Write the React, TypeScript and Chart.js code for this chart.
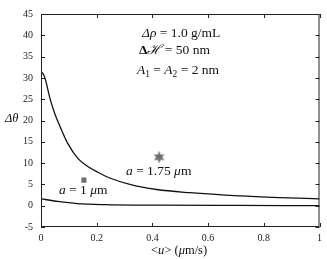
import React, { useEffect, useRef } from "react";
import { Chart, registerables } from "chart.js";

Chart.register(...registerables);

const bigU = [0, 0.007, 0.014, 0.022, 0.031, 0.049, 0.073, 0.097, 0.133, 0.168, 0.204, 0.247, 0.319, 0.415, 0.534, 0.713, 0.857, 1];
const bigTheta = [31.4, 31.0, 30.0, 28.0, 25.5, 21.7, 17.9, 14.5, 11.05, 9.2, 7.85, 6.5, 5.0, 3.8, 3.05, 2.3, 1.9, 1.6];
const smallU = [0, 0.06, 0.13, 0.23, 0.42, 0.7, 1];
const smallTheta = [1.6, 1.0, 0.5, 0.25, 0.12, 0.06, 0.03];
const squareU = [0.154];
const squareTheta = [6.0];
const starU = [0.424];
const starTheta = [11.4];
const xTicks = [0, 0.2, 0.4, 0.6, 0.8, 1];
const yTicks = [-5, 0, 5, 10, 15, 20, 25, 30, 35, 40, 45];

const SERIF = '"Liberation Serif", "DejaVu Serif", serif';

type Seg = { t: string; i?: boolean; b?: boolean; sub?: boolean };

function drawRich(ctx: CanvasRenderingContext2D, x: number, y: number, segs: Seg[], size: number) {
  let cx = x;
  ctx.save();
  ctx.fillStyle = "#111";
  ctx.textBaseline = "alphabetic";
  ctx.textAlign = "left";
  for (const s of segs) {
    const fs = s.sub ? size * 0.7 : size;
    ctx.font = `${s.i ? "italic " : ""}${s.b ? "bold " : ""}${fs}px ${SERIF}`;
    const yy = s.sub ? y + size * 0.2 : y;
    ctx.fillText(s.t, cx, yy);
    cx += ctx.measureText(s.t).width;
  }
  ctx.restore();
}

function makeStar(): HTMLCanvasElement {
  const c = document.createElement("canvas");
  c.width = 13;
  c.height = 13;
  const g = c.getContext("2d")!;
  g.fillStyle = "#6e6e6e";
  g.beginPath();
  const n = 6;
  for (let k = 0; k < n * 2; k++) {
    const r = k % 2 === 0 ? 6.2 : 3.0;
    const a = -Math.PI / 2 + (k * Math.PI) / n;
    const px = 6.5 + r * Math.cos(a);
    const py = 6.5 + r * Math.sin(a);
    if (k === 0) g.moveTo(px, py);
    else g.lineTo(px, py);
  }
  g.closePath();
  g.fill();
  return c;
}

const framePlugin = {
  id: "frame",
  afterDraw(chart: any) {
    const { ctx, chartArea: a, scales } = chart;
    ctx.save();
    ctx.strokeStyle = "#222";
    ctx.lineWidth = 1;
    ctx.strokeRect(a.left + 0.5, a.top + 0.5, a.right - a.left - 1, a.bottom - a.top - 1);
    ctx.beginPath();
    const tl = 4;
    for (const v of xTicks) {
      const px = Math.round(scales.x.getPixelForValue(v)) + 0.5;
      ctx.moveTo(px, a.bottom);
      ctx.lineTo(px, a.bottom - tl);
      ctx.moveTo(px, a.top);
      ctx.lineTo(px, a.top + tl);
    }
    for (const v of yTicks) {
      const py = Math.round(scales.y.getPixelForValue(v)) + 0.5;
      ctx.moveTo(a.left, py);
      ctx.lineTo(a.left + tl, py);
      ctx.moveTo(a.right, py);
      ctx.lineTo(a.right - tl, py);
    }
    ctx.stroke();
    ctx.restore();

    const fs = 13.5;
    drawRich(ctx, 142, 37, [{ t: "Δ", i: true }, { t: "ρ", i: true }, { t: " = 1.0 g/mL" }], fs);
    drawRich(ctx, 139, 54, [{ t: "Δ", b: true }, { t: "ℋ", i: true }, { t: " = 50 nm" }], fs);
    drawRich(ctx, 137, 74, [{ t: "A", i: true }, { t: "1", sub: true }, { t: " = " }, { t: "A", i: true }, { t: "2", sub: true }, { t: " = 2 nm" }], fs);
    drawRich(ctx, 126, 175, [{ t: "a", i: true }, { t: " = 1.75 " }, { t: "μ", i: true }, { t: "m" }], fs);
    drawRich(ctx, 59, 194, [{ t: "a", i: true }, { t: " = 1 " }, { t: "μ", i: true }, { t: "m" }], fs);
    drawRich(ctx, 5, 122, [{ t: "Δθ", i: true }], 12.5);
    drawRich(ctx, 151, 254, [{ t: "<" }, { t: "u", i: true }, { t: ">" }, { t: " (" }, { t: "μ", i: true }, { t: "m/s)" }], 12.5);
  },
};

export default function App() {
  const ref = useRef<HTMLCanvasElement>(null);
  useEffect(() => {
    const star = makeStar();
    const chart = new Chart(ref.current!, {
      type: "scatter",
      data: {
        datasets: [
          {
            data: bigU.map((u, k) => ({ x: u, y: bigTheta[k] })),
            showLine: true,
            borderColor: "#111",
            borderWidth: 1.3,
            pointRadius: 0,
            cubicInterpolationMode: "monotone",
          },
          {
            data: smallU.map((u, k) => ({ x: u, y: smallTheta[k] })),
            showLine: true,
            borderColor: "#111",
            borderWidth: 1.3,
            pointRadius: 0,
            cubicInterpolationMode: "monotone",
          },
          {
            data: squareU.map((u, k) => ({ x: u, y: squareTheta[k] })),
            pointStyle: "rect",
            pointRadius: 3.6,
            backgroundColor: "#6e6e6e",
            borderWidth: 0,
          },
          {
            data: starU.map((u, k) => ({ x: u, y: starTheta[k] })),
            pointStyle: star as any,
            pointRadius: 6,
          },
        ],
      },
      options: {
        animation: false,
        responsive: true,
        maintainAspectRatio: false,
        layout: { padding: { top: 8, right: 7, left: 0, bottom: 0 } },
        plugins: { legend: { display: false }, tooltip: { enabled: false } },
        scales: {
          x: {
            type: "linear",
            min: 0,
            max: 1,
            afterBuildTicks: (s: any) => {
              s.ticks = xTicks.map((v) => ({ value: v }));
            },
            afterFit: (s: any) => {
              s.height = 32;
            },
            grid: { display: false, drawTicks: false },
            border: { display: false },
            ticks: {
              padding: 5,
              color: "#222",
              font: { family: SERIF, size: 10 },
              callback: (v: any) => String(v),
            },
          },
          y: {
            type: "linear",
            min: -5,
            max: 45,
            afterBuildTicks: (s: any) => {
              s.ticks = yTicks.map((v) => ({ value: v }));
            },
            afterFit: (s: any) => {
              s.width = 41;
            },
            grid: { display: false, drawTicks: false },
            border: { display: false },
            ticks: {
              padding: 8,
              color: "#222",
              font: { family: SERIF, size: 10 },
              callback: (v: any) => String(v),
            },
          },
        },
      },
      plugins: [framePlugin],
    } as any);
    return () => chart.destroy();
  }, []);
  return (
    <div style={{ position: "absolute", left: 0, top: 0, width: 327, height: 259, background: "#fff" }}>
      <canvas ref={ref} />
    </div>
  );
}
